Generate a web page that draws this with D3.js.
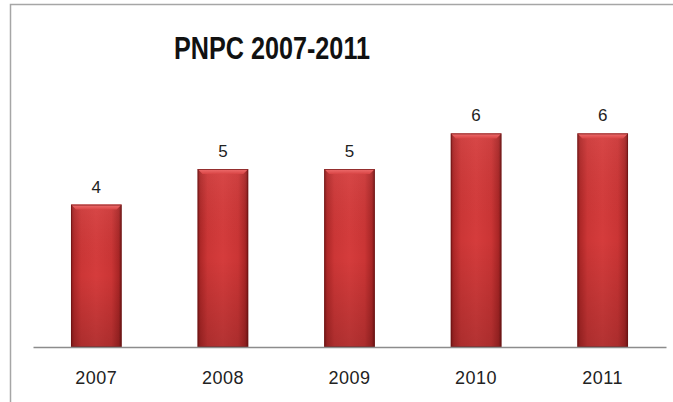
<!DOCTYPE html>
<html>
<head>
<meta charset="utf-8">
<script src="https://cdn.jsdelivr.net/npm/d3@7"></script>
<style>
  html, body { margin: 0; padding: 0; background: #ffffff; }
  svg { display: block; }
</style>
</head>
<body>
<svg id="chart" width="673" height="402"></svg>
<script>
const title = "PNPC 2007-2011";
const categories = ["2007", "2008", "2009", "2010", "2011"];
const values = [4, 5, 5, 6, 6];
const yDomainMax = 7;

const W = 673, H = 402;
const svg = d3.select("#chart");

// chart border (frame)
svg.append("path")
  .attr("d", `M10.5,${H} V4.5 H${W}`)
  .attr("fill", "none")
  .attr("stroke", "#a6a6a6")
  .attr("stroke-width", 1.5);

const x = d3.scaleBand()
  .domain(categories)
  .range([33, 666])
  .paddingInner(0.6)
  .paddingOuter(0.3);

const y = d3.scaleLinear()
  .domain([0, yDomainMax])
  .range([347, 97.8]);

const defs = svg.append("defs");
const hg = defs.append("linearGradient").attr("id", "barH")
  .attr("x1", "0").attr("x2", "1").attr("y1", "0").attr("y2", "0");
[[0, "#861a1a"], [0.06, "#b02828"], [0.2, "#cc3636"], [0.5, "#d53c3c"], [0.8, "#cb3535"], [0.94, "#aa2626"], [1, "#761616"]]
  .forEach(([o, c]) => hg.append("stop").attr("offset", o).attr("stop-color", c));
const vg = defs.append("linearGradient").attr("id", "barV")
  .attr("x1", "0").attr("x2", "0").attr("y1", "0").attr("y2", "1");
[[0, "#ffffff", 0.06], [0.5, "#000000", 0.0], [1, "#000000", 0.16]]
  .forEach(([o, c, a]) => vg.append("stop").attr("offset", o).attr("stop-color", c).attr("stop-opacity", a));
const tg = defs.append("linearGradient").attr("id", "barTop")
  .attr("x1", "0").attr("x2", "0").attr("y1", "0").attr("y2", "1");
[[0, "#f07070"], [1, "#d84444"]]
  .forEach(([o, c]) => tg.append("stop").attr("offset", o).attr("stop-color", c));

const data = categories.map((c, i) => ({ c, v: values[i] }));
const bars = svg.append("g").selectAll("g").data(data).join("g");

bars.append("rect")
  .attr("x", d => x(d.c))
  .attr("y", d => y(d.v))
  .attr("width", x.bandwidth())
  .attr("height", d => y(0) - y(d.v))
  .attr("fill", "url(#barH)");
bars.append("rect")
  .attr("x", d => x(d.c))
  .attr("y", d => y(d.v))
  .attr("width", x.bandwidth())
  .attr("height", d => y(0) - y(d.v))
  .attr("fill", "url(#barV)");
// top bevel
bars.append("path")
  .attr("d", d => {
    const x0 = x(d.c), x1 = x0 + x.bandwidth(), t = y(d.v), b = 5;
    return `M${x0},${t} H${x1} L${x1 - b},${t + b} H${x0 + b} Z`;
  })
  .attr("fill", "url(#barTop)");
bars.append("rect")
  .attr("x", d => x(d.c) + 0.5)
  .attr("y", d => y(d.v) + 0.5)
  .attr("width", x.bandwidth() - 1)
  .attr("height", d => y(0) - y(d.v) - 1)
  .attr("fill", "none")
  .attr("stroke", "#6e1414")
  .attr("stroke-opacity", 0.7)
  .attr("stroke-width", 1);

// value labels
bars.append("text")
  .attr("x", d => x(d.c) + x.bandwidth() / 2)
  .attr("y", d => y(d.v) - 12)
  .attr("text-anchor", "middle")
  .attr("font-family", "Liberation Sans, Arial, sans-serif")
  .attr("font-size", 17)
  .attr("fill", "#222")
  .text(d => d.v);

// x axis
const xAxis = svg.append("g")
  .attr("transform", `translate(0,${y(0)})`)
  .call(d3.axisBottom(x).tickSize(0).tickPadding(24));
xAxis.select(".domain").attr("stroke", "#8c8c8c").attr("stroke-width", 1.5);
xAxis.selectAll("text")
  .attr("font-family", "Liberation Sans, Arial, sans-serif")
  .attr("font-size", 18)
  .attr("letter-spacing", 0.5)
  .attr("fill", "#222");

// title
svg.append("text")
  .attr("x", 272)
  .attr("y", 59)
  .attr("text-anchor", "middle")
  .attr("font-family", "Liberation Sans, Arial, sans-serif")
  .attr("font-weight", "bold")
  .attr("font-size", 31)
  .attr("textLength", 196)
  .attr("lengthAdjust", "spacingAndGlyphs")
  .attr("fill", "#111")
  .text(title);
</script>
</body>
</html>
